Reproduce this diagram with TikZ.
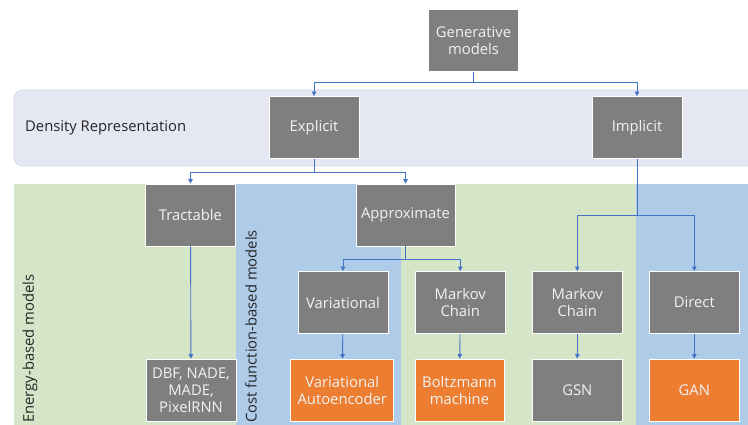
\documentclass[tikz,border=0pt]{standalone}
\usepackage{fontspec}
\setmainfont{Open Sans}
\usetikzlibrary{arrows.meta}
\definecolor{boxgray}{HTML}{7F7F7F}
\definecolor{boxorange}{HTML}{ED7D31}
\definecolor{bandlav}{HTML}{E5E7F3}
\definecolor{bandlavedge}{HTML}{D6D9E6}
\definecolor{bandgreen}{HTML}{D4E5C8}
\definecolor{bandblue}{HTML}{AECBE8}
\definecolor{connblue}{HTML}{4472C4}
\definecolor{labeltext}{HTML}{262626}
\tikzset{
  box/.style={rectangle, draw=white, line width=0.8pt, fill=boxgray,
    text=white!95!black, align=center, inner sep=1pt,
    minimum width=90, minimum height=62,
    font=\fontsize{14.8}{17}\selectfont},
  hot/.style={box, fill=boxorange},
  conn/.style={draw=connblue, line width=0.9pt,
    -{Triangle[length=4.5pt,width=4.5pt]}},
  sidelabel/.style={text=labeltext, font=\fontsize{14.8}{17}\selectfont, inner sep=0pt},
}
\begin{document}
\begin{tikzpicture}[x=1pt, y=-1pt]
\useasboundingbox (0,0) rectangle (748,425);
\clip (0,0) rectangle (748,425);

% background bands
\fill[bandgreen] (14,184) rectangle (236,430);
\fill[bandblue]  (236,184) rectangle (401,430);
\fill[bandgreen] (401,184) rectangle (636,430);
\fill[bandblue]  (636,184) rectangle (760,430);
\draw[bandlavedge, fill=bandlav, line width=0.6pt, rounded corners=8]
  (14,90) rectangle (770,166);

% band labels
\node[sidelabel, anchor=west] (dens) at (25,128) {Density Representation};
\node[sidelabel, anchor=west, rotate=90] (energy) at (30,423) {Energy-based models};
\node[sidelabel, anchor=west, rotate=90] (cost) at (251,423) {Cost function-based models};

% boxes
\node[box] (gen)   at (473.5,40.5) {Generative\\models};
\node[box] (expl)  at (314,127.5)  {Explicit};
\node[box] (impl)  at (637,127.5)  {Implicit};
\node[box] (tract) at (190.5,215)  {Tractable};
\node[box, minimum width=99] (approx) at (405.5,215) {Approximate};
\node[box] (var)   at (343,302.5)  {Variational};
\node[box] (mc1)   at (460.3,302.5) {Markov\\Chain};
\node[box] (mc2)   at (577.3,302.5) {Markov\\Chain};
\node[box] (dir)   at (694.3,302.5) {Direct};
\node[box] (dbf)   at (191,390)    {DBF, NADE,\\MADE,\\PixelRNN};
\node[hot, minimum width=103] (vae) at (342.3,390) {Variational\\Autoencoder};
\node[hot, minimum width=89] (boltz) at (459.5,390) {Boltzmann\\machine};
\node[box] (gsn)   at (577.3,390)  {GSN};
\node[hot] (gan)   at (694.3,390)  {GAN};

% connectors
\draw[conn] (gen.south) -- ++(0,11) -| (expl.north);
\draw[conn] (gen.south) -- ++(0,11) -| (impl.north);
\draw[conn] (expl.south) -- ++(0,14) -| (tract.north);
\draw[conn] (expl.south) -- ++(0,14) -| (approx.north);
\draw[conn] (impl.south) -- ++(0,57) -| (mc2.north);
\draw[conn] (impl.south) -- ++(0,57) -| (dir.north);
\draw[conn] (approx.south) -- ++(0,13) -| (var.north);
\draw[conn] (approx.south) -- ++(0,13) -| (mc1.north);
\draw[conn] (tract) -- (dbf);
\draw[conn] (var) -- (vae);
\draw[conn] (mc1) -- (boltz);
\draw[conn] (mc2) -- (gsn);
\draw[conn] (dir) -- (gan);
\end{tikzpicture}
\end{document}
